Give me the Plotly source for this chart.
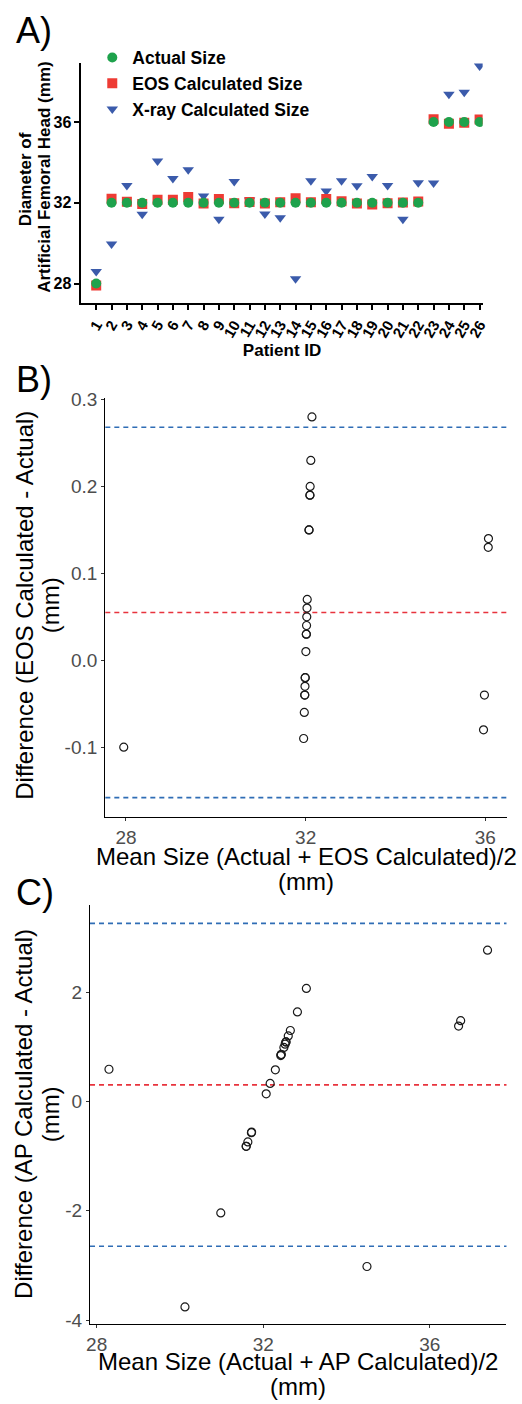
import plotly.graph_objects as go

# ---------------- data ----------------
patient_id = list(range(1, 27))
patient_labels = [str(p) for p in patient_id]

actual_size = [28] + [32] * 21 + [36] * 4
eos_size = [27.90, 32.20, 32.05, 31.94, 32.15, 32.15, 32.28, 31.96, 32.19, 31.98,
            32.04, 31.96, 32.03, 32.23, 32.03, 32.19, 32.07, 31.97, 31.91, 31.98,
            32.01, 32.06, 36.14, 35.92, 35.96, 36.13]
xray_size = [28.59, 29.96, 32.86, 31.43, 34.07, 33.20, 33.64, 32.33, 31.18, 33.05,
             32.14, 31.44, 31.26, 28.24, 33.09, 32.58, 33.09, 32.84, 33.30, 32.86,
             31.18, 32.99, 32.98, 37.38, 37.48, 38.77]

a_yticks = [28, 32, 36]
b_yticks = [-0.1, 0.0, 0.1, 0.2, 0.3]
b_yticklabels = ["-0.1", "0.0", "0.1", "0.2", "0.3"]
c_yticks = [-4, -2, 0, 2]
c_yticklabels = ["-4", "-2", "0", "2"]
bc_xticks = [28, 32, 36]


def bland_altman(ref, meas):
    mean = [(r + m) / 2 for r, m in zip(ref, meas)]
    diff = [m - r for r, m in zip(ref, meas)]
    n = len(diff)
    md = sum(diff) / n
    sd = (sum((d - md) ** 2 for d in diff) / (n - 1)) ** 0.5
    return mean, diff, md, md + 1.96 * sd, md - 1.96 * sd


b_mean, b_diff, b_md, b_hi, b_lo = bland_altman(actual_size, eos_size)
c_mean, c_diff, c_md, c_hi, c_lo = bland_altman(actual_size, xray_size)

# ---------------- styling ----------------
W, H = 522, 1404
FONT = "Liberation Sans, Arial, Helvetica, sans-serif"
GREEN, RED, BLUE = "#1ea24c", "#ee3b34", "#3b5bab"
LINE_BLUE, LINE_RED = "#2f6db5", "#e8333d"
TICK_GREY = "#4d4d4d"


def px_x(p):
    return p / W


def px_y(p):
    return 1 - p / H


fig = go.Figure()

# Panel A
fig.add_trace(go.Scatter(x=patient_id, y=xray_size, mode="markers", name="X-ray Calculated Size",
                         marker=dict(symbol="triangle-down", size=10, color=BLUE),
                         xaxis="x", yaxis="y", legendrank=3))
fig.add_trace(go.Scatter(x=patient_id, y=eos_size, mode="markers", name="EOS Calculated Size",
                         marker=dict(symbol="square", size=10, color=RED),
                         xaxis="x", yaxis="y", legendrank=2))
fig.add_trace(go.Scatter(x=patient_id, y=actual_size, mode="markers", name="Actual Size",
                         marker=dict(symbol="circle", size=10, color=GREEN),
                         xaxis="x", yaxis="y", legendrank=1))

# Panel B
fig.add_trace(go.Scatter(x=b_mean, y=b_diff, mode="markers", showlegend=False,
                         marker=dict(symbol="circle-open", size=8, color="#1a1a1a",
                                     line=dict(width=1.2)),
                         xaxis="x2", yaxis="y2"))
# Panel C
fig.add_trace(go.Scatter(x=c_mean, y=c_diff, mode="markers", showlegend=False,
                         marker=dict(symbol="circle-open", size=8, color="#1a1a1a",
                                     line=dict(width=1.2)),
                         xaxis="x3", yaxis="y3"))

shapes = []
for ax, vals in (("2", (b_hi, b_md, b_lo)), ("3", (c_hi, c_md, c_lo))):
    for v, col in zip(vals, (LINE_BLUE, LINE_RED, LINE_BLUE)):
        shapes.append(dict(type="line", xref="x%s domain" % ax, yref="y%s" % ax,
                           x0=0, x1=1, y0=v, y1=v,
                           line=dict(color=col, width=1.6, dash="5px,4px"), layer="below"))

boldA = dict(family=FONT, size=16, color="black", weight="bold")

axA = dict(showline=True, linecolor="black", linewidth=2, ticks="outside", ticklen=5,
           tickwidth=2, tickcolor="black", showgrid=False, zeroline=False, mirror=False)
axBC = dict(showline=True, linecolor="black", linewidth=1.3, ticks="outside", ticklen=3,
            tickwidth=1.1, tickcolor="#333333", showgrid=False, zeroline=False,
            tickfont=dict(family=FONT, size=19, color=TICK_GREY))


def label(text, xpx, ypx, size, angle=0, bold=False, xanchor="center"):
    f = dict(family=FONT, size=size, color="black")
    if bold:
        f["weight"] = "bold"
    return dict(text=text, x=px_x(xpx), y=px_y(ypx), xref="paper", yref="paper",
                xanchor=xanchor, yanchor="middle", showarrow=False, textangle=angle, font=f)


annotations = [
    label("A)", 10, 22, 36, xanchor="left"),
    label("B)", 10, 375, 36, xanchor="left"),
    label("C)", 10, 894, 36, xanchor="left"),
    # panel A y title
    label("Diameter of", 21.5, 172, 17, angle=-90, bold=True),
    label("Artificial Femoral Head (mm)", 40.5, 170, 17, angle=-90, bold=True),
    # panel B titles
    label("Difference (EOS Calculated - Actual)", 21, 603, 24, angle=-90),
    label("(mm)", 47, 603, 24, angle=-90),
    label("Mean Size (Actual + EOS Calculated)/2", 308, 857, 24),
    label("(mm)", 308, 883, 24),
    # panel C titles
    label("Difference (AP Calculated - Actual)", 20, 1118, 24, angle=-90),
    label("(mm)", 47, 1118, 24, angle=-90),
    label("Mean Size (Actual + AP Calculated)/2", 300, 1368, 24),
    label("(mm)", 300, 1393, 24),
]

fig.update_layout(
    width=W, height=H, margin=dict(l=0, r=0, t=0, b=0),
    paper_bgcolor="white", plot_bgcolor="white",
    font=dict(family=FONT, color="black"),
    shapes=shapes,
    showlegend=True,
    legend=dict(x=px_x(90), y=px_y(31), xanchor="left", yanchor="top",
                bgcolor="rgba(0,0,0,0)", borderwidth=0,
                font=dict(family=FONT, size=17.5, color="black", weight="bold"),
                tracegroupgap=4, itemsizing="trace"),
    xaxis=dict(axA, domain=[px_x(79), px_x(488)], anchor="y", range=[0.04, 26.2],
               tickmode="array", tickvals=patient_id, ticktext=patient_labels,
               tickangle=-60, tickfont=dict(family=FONT, size=15, color="black", weight="bold"),
               title=dict(text="Patient ID", font=dict(family=FONT, size=17, color="black", weight="bold"),
                          standoff=0)),
    yaxis=dict(axA, domain=[px_y(297.7), px_y(54.3)], anchor="x", range=[27.02, 38.94],
               tickmode="array", tickvals=a_yticks, tickfont=boldA),
    xaxis2=dict(axBC, domain=[px_x(103.3), px_x(512.7)], anchor="y2", range=[27.54, 36.48],
                tickmode="array", tickvals=bc_xticks),
    yaxis2=dict(axBC, domain=[px_y(817), px_y(393.3)], anchor="x2", range=[-0.18, 0.302],
                tickmode="array", tickvals=b_yticks, ticktext=b_yticklabels),
    xaxis3=dict(axBC, domain=[px_x(87.7), px_x(512.3)], anchor="y3", range=[27.84, 37.84],
                tickmode="array", tickvals=bc_xticks),
    yaxis3=dict(axBC, domain=[px_y(1330), px_y(906.7)], anchor="x3", range=[-4.07, 3.59],
                tickmode="array", tickvals=c_yticks, ticktext=c_yticklabels),
    annotations=annotations,
)

fig.write_html("out.html", config={"displayModeBar": False},
               post_script="document.body.style.margin='0px';")
